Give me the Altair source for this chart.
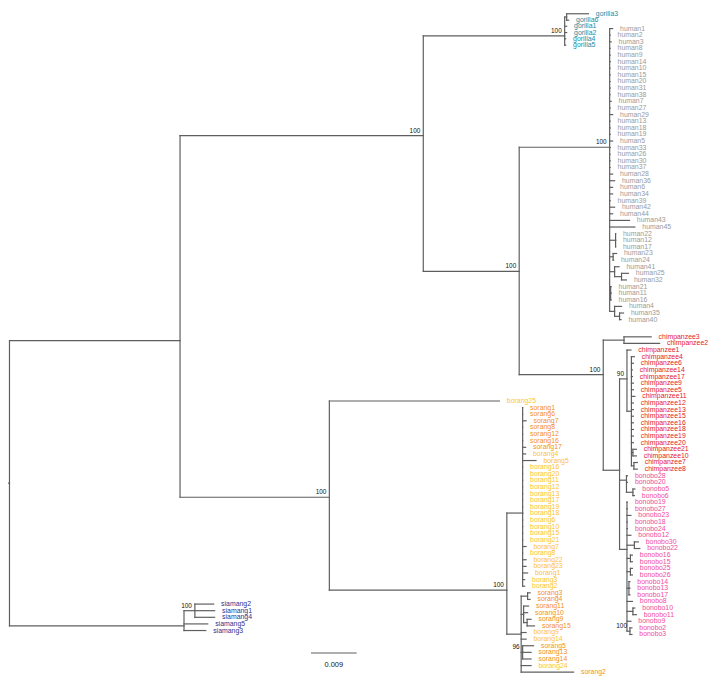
import altair as alt
import pandas as pd

# ---------------- data ----------------
# depth in 1e-3 substitutions/site, row = tip slot (human1 = 0)
# internal nodes: (id, parent, depth, row or None, support)
NODES = [
    ("R0", None, 0.0, 68.72, ""),
    ("R", "R0", 1.5, 68.72, ""),
    ("A", "R", 36.0, 47.17, ""),
    ("B", "A", 85.2, 16.17, "100"),
    ("G", "B", 113.8, 1.09, "100"),
    ("G36", "G", 114.2, None, ""),
    ("HC", "B", 104.6, 36.71, "100"),
    ("H", "HC", 122.9, 17.94, "100"),
    ("H1", "H", 124.1, None, ""),
    ("H2", "H", 123.6, None, ""),
    ("H3", "H", 123.9, None, ""),
    ("H3b", "H3", 125.3, None, ""),
    ("H4", "H", 123.1, None, ""),
    ("H5", "H", 123.9, None, ""),
    ("H5b", "H5", 124.9, None, ""),
    ("CB", "HC", 121.6, 52.32, "100"),
    ("C32", "CB", 125.8, None, ""),
    ("P", "CB", 124.9, 66.77, ""),
    ("C90", "P", 126.4, 52.96, "90"),
    ("C2", "C90", 127.3, None, ""),
    ("C2a", "C2", 127.6, None, ""),
    ("C2b", "C2", 127.8, None, ""),
    ("B1", "P", 126.3, 68.27, ""),
    ("B56", "B1", 127.6, None, ""),
    ("BN", "P", 126.4, 78.73, ""),
    ("B3022", "BN", 127.9, None, ""),
    ("B1615", "BN", 127.1, None, ""),
    ("B2526", "BN", 127.1, None, ""),
    ("B141317", "BN", 126.8, None, ""),
    ("B1011", "BN", 127.6, None, ""),
    ("B23", "BN", 127.0, None, "100"),
    ("O", "A", 66.2, 70.85, "100"),
    ("SO", "O", 102.1, 84.9, "100"),
    ("S1", "SO", 105.3, 73.24, ""),
    ("S2", "SO", 105.0, None, ""),
    ("S34", "S2", 106.3, None, ""),
    ("S3", "S2", 105.5, None, ""),
    ("S915", "S3", 106.2, None, ""),
    ("S96", "S2", 105.3, None, "96"),
    ("SM", "R", 36.8, 90.3, ""),
    ("S214", "SM", 39.0, None, "100"),
]

# tips: (name, parent, depth); rows run consecutively from the clade's first row
GORILLA_ROWS = [-2.24, -1.27, -0.35, 0.6, 1.55, 2.5]
GORILLA = [("gorilla3", "G36", 118.6), ("gorilla6", "G36", 114.6), ("gorilla1", "G", 114.2),
           ("gorilla2", "G", 114.2), ("gorilla4", "G", 114.0), ("gorilla5", "G", 114.0)]

HUMAN_START = 0
HUMAN = [("human1", "H", 123.5), ("human2", "H", 123.0), ("human3", "H", 123.2), ("human8", "H", 123.0),
         ("human9", "H", 123.0), ("human14", "H", 123.0), ("human10", "H", 123.0), ("human15", "H", 123.0),
         ("human20", "H", 123.0), ("human31", "H", 123.0), ("human38", "H", 123.0), ("human7", "H", 123.2),
         ("human27", "H", 123.0), ("human29", "H", 123.5), ("human13", "H", 123.0), ("human18", "H", 123.0),
         ("human19", "H", 123.0), ("human5", "H", 123.5), ("human33", "H", 123.0), ("human26", "H", 123.0),
         ("human30", "H", 123.0), ("human37", "H", 123.0), ("human28", "H", 123.5), ("human36", "H", 123.9),
         ("human6", "H", 123.5), ("human34", "H", 123.5), ("human39", "H", 123.0), ("human42", "H", 123.9),
         ("human44", "H", 123.5), ("human43", "H", 126.9), ("human45", "H", 128.0), ("human22", "H1", 124.1),
         ("human12", "H1", 124.1), ("human17", "H1", 124.1), ("human23", "H2", 124.3), ("human24", "H2", 123.7),
         ("human41", "H3", 124.8), ("human25", "H3b", 126.7), ("human32", "H3b", 126.3), ("human21", "H4", 123.2),
         ("human11", "H4", 123.2), ("human16", "H4", 123.2), ("human4", "H5", 125.3), ("human35", "H5b", 125.7),
         ("human40", "H5b", 125.2)]

CHIMP_START = 46.6
CHIMP = [("chimpanzee3", "C32", 131.3), ("chimpanzee2", "C32", 133.0), ("chimpanzee1", "C90", 127.2),
         ("chimpanzee4", "C2", 127.9), ("chimpanzee6", "C2", 127.7), ("chimpanzee14", "C2", 127.5),
         ("chimpanzee17", "C2", 127.5), ("chimpanzee9", "C2", 127.7), ("chimpanzee5", "C2", 127.7),
         ("chimpanzee11", "C2", 128.0), ("chimpanzee12", "C2", 127.7), ("chimpanzee13", "C2", 127.7),
         ("chimpanzee15", "C2", 127.7), ("chimpanzee16", "C2", 127.7), ("chimpanzee18", "C2", 127.7),
         ("chimpanzee19", "C2", 127.7), ("chimpanzee20", "C2", 127.7), ("chimpanzee21", "C2a", 128.3),
         ("chimpanzee10", "C2a", 128.3), ("chimpanzee7", "C2b", 128.5), ("chimpanzee8", "C2b", 128.5)]

BONOBO_START = 67.6
BONOBO = [("bonobo28", "B1", 126.5), ("bonobo20", "B1", 126.5), ("bonobo5", "B56", 128.0), ("bonobo6", "B56", 127.9),
          ("bonobo19", "BN", 126.5), ("bonobo27", "BN", 126.5), ("bonobo23", "BN", 127.2), ("bonobo18", "BN", 126.5),
          ("bonobo24", "BN", 126.5), ("bonobo12", "BN", 127.2), ("bonobo30", "B3022", 128.7),
          ("bonobo22", "B3022", 129.0), ("bonobo16", "B1615", 127.5), ("bonobo15", "B1615", 127.5),
          ("bonobo25", "B2526", 127.5), ("bonobo26", "B2526", 127.5), ("bonobo14", "B141317", 127.0),
          ("bonobo13", "B141317", 127.0), ("bonobo17", "B141317", 127.0), ("bonobo8", "BN", 127.5),
          ("bonobo10", "B1011", 128.0), ("bonobo11", "B1011", 128.3), ("bonobo9", "BN", 127.2),
          ("bonobo2", "B23", 127.4), ("bonobo3", "B23", 127.4)]

ORANG_START = 56.3
ORANG = [("borang25", "O", 100.6), ("sorang1", "S1", 105.3), ("sorang6", "S1", 105.3), ("sorang7", "S1", 106.0),
         ("sorang8", "S1", 105.3), ("sorang12", "S1", 105.3), ("sorang16", "S1", 105.3), ("sorang17", "S1", 105.9),
         ("borang4", "S1", 105.9), ("borang5", "S1", 108.0), ("borang16", "S1", 105.3), ("borang20", "S1", 105.3),
         ("borang11", "S1", 105.3), ("borang12", "S1", 105.3), ("borang13", "S1", 105.3), ("borang17", "S1", 105.3),
         ("borang19", "S1", 105.3), ("borang18", "S1", 105.3), ("borang6", "S1", 105.3), ("borang10", "S1", 105.3),
         ("borang15", "S1", 105.3), ("borang21", "S1", 105.3), ("borang7", "S1", 106.0), ("borang8", "S1", 105.3),
         ("borang22", "S1", 106.0), ("borang23", "S1", 106.0), ("borang1", "S1", 106.3), ("borang3", "S1", 105.7),
         ("borang2", "S1", 105.7), ("sorang3", "S34", 106.8), ("sorang4", "S34", 106.8), ("sorang11", "S3", 106.5),
         ("sorang10", "S3", 106.3), ("sorang9", "S915", 107.0), ("sorang15", "S915", 107.7),
         ("borang9", "S2", 106.0), ("borang14", "S2", 106.0), ("sorang5", "S96", 107.5), ("sorang13", "S96", 107.0),
         ("sorang14", "S96", 107.0), ("borang24", "S2", 107.0), ("sorang2", "S2", 115.6)]

SIAMANG_START = 87.0
SIAMANG = [("siamang2", "S214", 42.8), ("siamang1", "S214", 43.0), ("siamang4", "S214", 43.0),
           ("siamang5", "SM", 41.6), ("siamang3", "SM", 41.2)]

GROUPS = ["gorilla", "human", "chimpanzee", "bonobo", "sorang", "borang", "siamang"]
GROUP_COLORS = ["#1a8aa0", "#9a9a9a", "#e5202a", "#f04c9e", "#f39022", "#fdc431", "#2e318c"]

SCALE_BAR = (62.6, 9.0, "0.009")   # start depth, length, label
SCALE_ROW = 94.4

# ---------------- build ----------------
nodes = {}
for nid, par, dep, row, sup in NODES:
    nodes[nid] = dict(parent=par, depth=dep, row=row, support=sup)

leaf_rows = []
def add_leaves(items, rows):
    for (name, par, dep), r in zip(items, rows):
        nodes[name] = dict(parent=par, depth=dep, row=r, support="")
        base = "".join(c for c in name if not c.isdigit())
        leaf_rows.append(dict(name=name, depth=dep, row=r, group=base))

add_leaves(GORILLA, GORILLA_ROWS)
add_leaves(HUMAN, [HUMAN_START + i for i in range(len(HUMAN))])
add_leaves(CHIMP, [CHIMP_START + i for i in range(len(CHIMP))])
add_leaves(BONOBO, [BONOBO_START + i for i in range(len(BONOBO))])
add_leaves(ORANG, [ORANG_START + i for i in range(len(ORANG))])
add_leaves(SIAMANG, [SIAMANG_START + i for i in range(len(SIAMANG))])

children = {k: [] for k in nodes}
for k, v in nodes.items():
    if v["parent"] is not None:
        children[v["parent"]].append(k)

def get_row(nid):
    n = nodes[nid]
    if n["row"] is None:
        lo, hi = span(nid)
        n["row"] = (lo + hi) / 2
    return n["row"]

def span(nid):
    rows = [get_row(c) for c in children[nid]]
    return min(rows), max(rows)

for k in list(nodes):
    get_row(k)

segs = []
for k, v in nodes.items():
    if v["parent"] is not None:
        p = nodes[v["parent"]]
        segs.append(dict(x=p["depth"], x2=v["depth"], y=v["row"], y2=v["row"]))
    if children[k]:
        lo, hi = span(k)
        segs.append(dict(x=v["depth"], x2=v["depth"], y=lo, y2=hi))

sb_start, sb_len, sb_label = SCALE_BAR
segs.append(dict(x=sb_start, x2=sb_start + sb_len, y=SCALE_ROW, y2=SCALE_ROW))

seg_df = pd.DataFrame(segs)
leaf_df = pd.DataFrame(leaf_rows)
sup_df = pd.DataFrame([dict(depth=v["depth"], row=v["row"], support=v["support"])
                       for v in nodes.values() if v["support"]])
sb_df = pd.DataFrame([dict(depth=sb_start + sb_len / 2, row=SCALE_ROW, label=sb_label)])

W, H = 712, 672
ROW_PX = 6.69
Y0 = 17.0
xs = alt.Scale(domain=[1.2, 1.2 + W / 5.0])
ys = alt.Scale(domain=[-Y0 / ROW_PX, (H - Y0) / ROW_PX], reverse=True)
X = lambda f: alt.X(f, type="quantitative", scale=xs, axis=None)
Y = lambda f: alt.Y(f, type="quantitative", scale=ys, axis=None)

lines = alt.Chart(seg_df).mark_rule(color="#5e5e5e", strokeWidth=1.2, strokeCap="square").encode(
    x=X("x"), x2="x2", y=Y("y"), y2="y2")

labels = alt.Chart(leaf_df).mark_text(align="left", baseline="middle", dx=7.5, font="Liberation Sans",
                                       fontSize=7).encode(
    x=X("depth"), y=Y("row"), text="name",
    color=alt.Color("group:N", scale=alt.Scale(domain=GROUPS, range=GROUP_COLORS), legend=None))

supports = alt.Chart(sup_df).mark_text(align="right", baseline="bottom", dx=-3, dy=-2,
                                        font="Liberation Sans", fontSize=6.5, color="#111").encode(
    x=X("depth"), y=Y("row"), text="support")

sbl = alt.Chart(sb_df).mark_text(align="center", baseline="top", dy=8, font="Liberation Sans",
                                  fontSize=7.5, color="#111").encode(
    x=X("depth"), y=Y("row"), text="label")

chart = alt.layer(lines, labels, supports, sbl).properties(
    width=W, height=H, padding=0, autosize=alt.AutoSizeParams(type="none")
).configure_view(stroke=None)

chart.save("out.html", embed_options={"renderer": "svg", "actions": False})
